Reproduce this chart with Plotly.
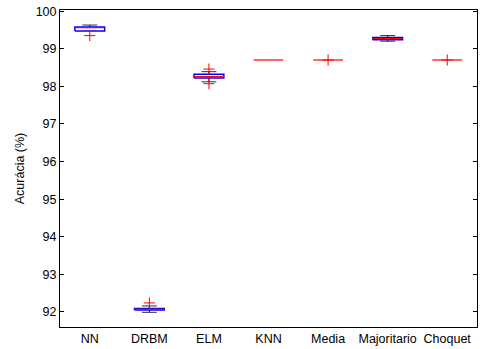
import plotly.graph_objects as go

categories = ["NN", "DRBM", "ELM", "KNN", "Media", "Majoritario", "Choquet"]
q1 = [99.47, 92.05, 98.22, 98.70, 98.70, 99.24, 98.70]
median = [99.56, 92.07, 98.26, 98.70, 98.70, 99.27, 98.70]
q3 = [99.58, 92.09, 98.32, 98.70, 98.70, 99.30, 98.70]
lower_whisker = [99.47, 91.99, 98.12, 98.70, 98.70, 99.20, 98.70]
upper_whisker = [99.63, 92.16, 98.39, 98.70, 98.70, 99.35, 98.70]
outlier_cat = [1, 2, 3, 3, 5, 7]
outlier_val = [99.35, 92.24, 98.46, 98.07, 98.70, 98.70]

tick_vals = [92, 93, 94, 95, 96, 97, 98, 99, 100]

half_w = 0.25
cap_w = 0.125

fig = go.Figure()

for i in range(len(categories)):
    x = i + 1
    if upper_whisker[i] > q3[i]:
        fig.add_trace(go.Scatter(x=[x, x], y=[q3[i], upper_whisker[i]], mode="lines",
                                 line=dict(color="black", width=1, dash="dash"), showlegend=False, hoverinfo="skip"))
        fig.add_trace(go.Scatter(x=[x - cap_w, x + cap_w], y=[upper_whisker[i]] * 2, mode="lines",
                                 line=dict(color="#333333", width=1), showlegend=False, hoverinfo="skip"))
    if lower_whisker[i] < q1[i]:
        fig.add_trace(go.Scatter(x=[x, x], y=[lower_whisker[i], q1[i]], mode="lines",
                                 line=dict(color="black", width=1, dash="dash"), showlegend=False, hoverinfo="skip"))
        fig.add_trace(go.Scatter(x=[x - cap_w, x + cap_w], y=[lower_whisker[i]] * 2, mode="lines",
                                 line=dict(color="#333333", width=1), showlegend=False, hoverinfo="skip"))
    if q3[i] > q1[i]:
        fig.add_trace(go.Scatter(x=[x - half_w, x + half_w, x + half_w, x - half_w, x - half_w],
                                 y=[q1[i], q1[i], q3[i], q3[i], q1[i]], mode="lines",
                                 line=dict(color="blue", width=1.5), showlegend=False, hoverinfo="skip"))
    fig.add_trace(go.Scatter(x=[x - half_w, x + half_w], y=[median[i]] * 2, mode="lines",
                             line=dict(color="red", width=1.2), showlegend=False, hoverinfo="skip"))

fig.add_trace(go.Scatter(x=outlier_cat, y=outlier_val, mode="markers",
                         marker=dict(symbol="cross-thin", size=8, line=dict(color="red", width=1)),
                         showlegend=False, hoverinfo="skip"))

fig.update_layout(
    width=481, height=349,
    margin=dict(l=60, r=4, t=10, b=22),
    paper_bgcolor="white", plot_bgcolor="white",
    font=dict(family="Liberation Sans, Arial, sans-serif", size=12.5, color="black"),
    xaxis=dict(range=[0.5, 7.5], tickmode="array", tickvals=list(range(1, len(categories) + 1)),
               ticktext=categories, showgrid=False, zeroline=False, showline=True, linecolor="black",
               linewidth=1, mirror=True, ticks="", tickfont=dict(size=12.5)),
    yaxis=dict(range=[91.6, 100.03], tickmode="array", tickvals=tick_vals,
               showgrid=False, zeroline=False, showline=True, linecolor="black", linewidth=1,
               mirror="ticks", ticks="inside", ticklen=4, tickcolor="black",
               title=dict(text="Acurácia (%)", font=dict(size=12.5), standoff=8), tickfont=dict(size=12.5)),
)

fig.write_html("out.html")
